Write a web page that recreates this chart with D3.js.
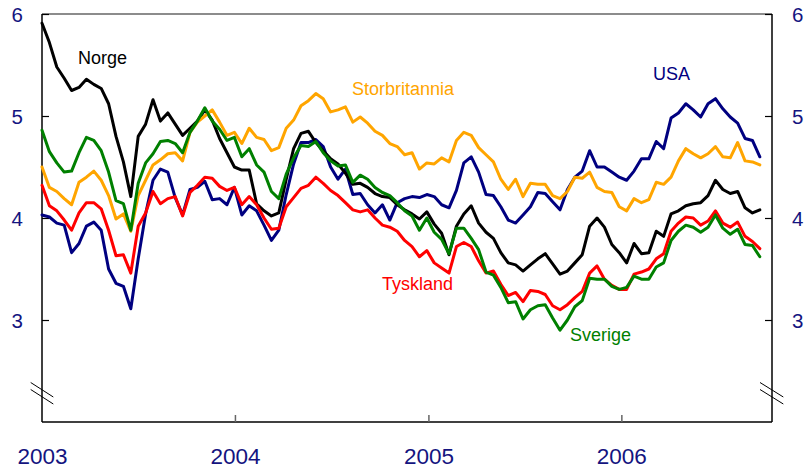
<!DOCTYPE html>
<meta charset="utf-8">
<title>Renter</title>
<style>
  body { margin: 0; background: #fff; }
  svg { display: block; font-family: "Liberation Sans", Arial, sans-serif; }
  .line { fill: none; stroke-width: 3; stroke-linejoin: round; stroke-linecap: round; }
  .axis text { fill: #141480; }
  .axis path.domain { display: none; }
</style>
<body>
<script src="https://d3js.org/d3.v7.min.js"></script>
<script>
// two-week readings, first one in the first week of 2003
var start = new Date(2003, 0, 1);

var norge = [5.91,5.72,5.48,5.37,5.25,5.28,5.36,5.31,5.27,5.12,4.80,4.55,4.21,4.80,4.92,5.16,4.95,5.03,4.92,4.81,
  4.88,4.95,5.06,4.96,4.78,4.64,4.50,4.47,4.47,4.14,4.07,4.02,4.05,4.38,4.68,4.83,4.85,4.74,4.66,4.58,
  4.53,4.44,4.33,4.34,4.30,4.24,4.21,4.20,4.13,4.08,4.04,3.99,4.06,3.94,3.85,3.64,3.92,4.04,4.12,3.95,
  3.86,3.80,3.66,3.56,3.54,3.48,3.54,3.60,3.65,3.55,3.45,3.48,3.56,3.64,3.92,4.00,3.91,3.74,3.66,3.56,
  3.75,3.65,3.66,3.87,3.82,4.04,4.07,4.12,4.14,4.15,4.22,4.37,4.28,4.24,4.26,4.10,4.05,4.08];

var usa = [4.03,4.01,3.95,3.93,3.66,3.75,3.92,3.96,3.88,3.50,3.36,3.33,3.11,3.60,4.04,4.37,4.48,4.45,4.20,4.03,
  4.28,4.30,4.36,4.18,4.19,4.13,4.30,4.03,4.12,4.07,3.93,3.78,3.88,4.23,4.53,4.74,4.74,4.77,4.70,4.50,
  4.38,4.48,4.23,4.24,4.13,4.05,4.13,3.98,4.15,4.19,4.21,4.20,4.23,4.21,4.13,4.10,4.27,4.54,4.60,4.45,
  4.23,4.22,4.11,3.98,3.95,4.03,4.11,4.25,4.24,4.16,4.08,4.28,4.40,4.46,4.66,4.50,4.50,4.45,4.40,4.37,
  4.46,4.58,4.58,4.75,4.68,4.98,5.03,5.12,5.06,4.99,5.12,5.17,5.07,4.99,4.93,4.78,4.76,4.60];

var storbritannia = [4.50,4.30,4.26,4.19,4.13,4.35,4.40,4.46,4.37,4.22,3.99,4.04,3.87,4.22,4.37,4.52,4.57,4.63,4.64,4.56,
  4.84,4.94,5.00,5.06,4.94,4.81,4.84,4.73,4.88,4.79,4.77,4.66,4.69,4.88,4.96,5.10,5.15,5.22,5.17,5.04,
  5.06,5.09,4.94,4.99,4.93,4.85,4.81,4.73,4.70,4.62,4.64,4.48,4.54,4.53,4.59,4.55,4.76,4.84,4.81,4.69,
  4.62,4.55,4.38,4.28,4.38,4.21,4.34,4.33,4.33,4.22,4.19,4.26,4.40,4.39,4.45,4.30,4.26,4.25,4.11,4.07,
  4.19,4.15,4.18,4.35,4.33,4.40,4.56,4.68,4.63,4.59,4.63,4.70,4.60,4.59,4.74,4.56,4.55,4.52];

var tyskland = [4.32,4.12,4.07,3.98,3.88,4.05,4.15,4.15,4.09,3.88,3.63,3.64,3.46,3.92,4.05,4.26,4.14,4.19,4.21,4.02,
  4.25,4.32,4.40,4.39,4.31,4.27,4.30,4.13,4.21,4.13,4.00,3.89,3.90,4.11,4.20,4.29,4.32,4.40,4.34,4.27,
  4.22,4.15,4.08,4.06,4.08,4.00,3.93,3.91,3.87,3.78,3.72,3.62,3.68,3.56,3.51,3.46,3.72,3.76,3.72,3.58,
  3.46,3.48,3.35,3.24,3.27,3.18,3.29,3.28,3.25,3.14,3.10,3.15,3.22,3.28,3.46,3.53,3.40,3.34,3.30,3.30,
  3.45,3.47,3.50,3.60,3.65,3.87,3.95,4.01,4.00,3.93,3.97,4.07,3.95,3.91,3.96,3.82,3.77,3.70];

var sverige = [4.86,4.65,4.54,4.45,4.46,4.64,4.79,4.76,4.66,4.45,4.17,4.14,3.88,4.34,4.54,4.63,4.75,4.76,4.73,4.64,
  4.84,4.95,5.08,4.95,4.87,4.76,4.79,4.60,4.68,4.52,4.45,4.26,4.19,4.43,4.59,4.71,4.70,4.75,4.64,4.56,
  4.51,4.52,4.35,4.42,4.38,4.30,4.25,4.22,4.15,4.07,4.02,3.88,4.00,3.86,3.79,3.65,3.90,3.90,3.80,3.69,
  3.47,3.44,3.32,3.17,3.18,3.01,3.10,3.14,3.15,3.02,2.90,3.00,3.13,3.19,3.41,3.40,3.40,3.33,3.30,3.32,
  3.43,3.40,3.40,3.52,3.56,3.78,3.87,3.93,3.91,3.86,3.91,4.03,3.90,3.84,3.89,3.74,3.73,3.62];

var yTicks = [3, 4, 5, 6];
var xYears = [2003, 2004, 2005, 2006];

var series = [
  { name: "USA", values: usa, color: "#000080", lx: 653, ly: 80 },
  { name: "Norge", values: norge, color: "#000000", lx: 78, ly: 64 },
  { name: "Storbritannia", values: storbritannia, color: "#FFA500", lx: 352, ly: 95 },
  { name: "Tyskland", values: tyskland, color: "#FF0000", lx: 382, ly: 290 },
  { name: "Sverige", values: sverige, color: "#008000", lx: 570, ly: 341 }
];

var W = 808, H = 472;
var plotLeft = 42, plotRight = 772, plotTop = 14, plotBottom = 422;

var dates = norge.map(function(d, i) { return d3.timeDay.offset(start, 14 * i); });

var x = d3.scaleTime()
    .domain([new Date(2003, 0, 1), new Date(2006, 9, 13)])
    .range([plotLeft, plotRight]);

var y = d3.scaleLinear()
    .domain([2, 6])
    .range([plotBottom, plotTop]);

var svg = d3.select("body").append("svg")
    .attr("width", W)
    .attr("height", H);

// frame
svg.append("line").attr("x1", plotLeft).attr("x2", plotRight).attr("y1", plotTop).attr("y2", plotTop)
    .attr("stroke", "#666").attr("stroke-width", 1.5);
svg.append("line").attr("x1", plotLeft).attr("x2", plotLeft).attr("y1", plotTop).attr("y2", plotBottom)
    .attr("stroke", "#000").attr("stroke-width", 1.5);
svg.append("line").attr("x1", plotRight).attr("x2", plotRight).attr("y1", plotTop).attr("y2", plotBottom)
    .attr("stroke", "#000").attr("stroke-width", 1.5);
svg.append("line").attr("x1", plotLeft).attr("x2", plotRight).attr("y1", plotBottom).attr("y2", plotBottom)
    .attr("stroke", "#000").attr("stroke-width", 1.5);

var yLeft = d3.axisLeft(y).tickValues(yTicks).tickFormat(d3.format("d"))
    .tickSize(-7).tickSizeOuter(0).tickPadding(19);
var yRight = d3.axisRight(y).tickValues(yTicks).tickFormat(d3.format("d"))
    .tickSize(-7).tickSizeOuter(0).tickPadding(20);

svg.append("g").attr("class", "axis")
    .attr("transform", "translate(" + plotLeft + ",0)")
    .call(yLeft)
    .call(function(g) {
      g.selectAll(".tick line").attr("stroke", "#000").attr("stroke-width", 1.2);
      g.selectAll("text").style("font-size", "20.5px").attr("dy", "0.36em");
    });

svg.append("g").attr("class", "axis")
    .attr("transform", "translate(" + plotRight + ",0)")
    .call(yRight)
    .call(function(g) {
      g.selectAll(".tick line").attr("stroke", "#000").attr("stroke-width", 1.2);
      g.selectAll("text").style("font-size", "20.5px").attr("dy", "0.36em");
    });

var xAxis = d3.axisBottom(x)
    .tickValues(xYears.map(function(yr) { return new Date(yr, 0, 1); }))
    .tickFormat(d3.timeFormat("%Y"))
    .tickSize(-7).tickSizeOuter(0).tickPadding(26);

svg.append("g").attr("class", "axis")
    .attr("transform", "translate(0," + plotBottom + ")")
    .call(xAxis)
    .call(function(g) {
      g.selectAll(".tick line").attr("stroke", "#666").attr("stroke-width", 1.5)
        .filter(function(d) { return d.getFullYear() === 2003; }).remove();
      g.selectAll("text").style("font-size", "22.5px");
    });

// axis break marks
[[30.7, 53.3], [760, 783.3]].forEach(function(p) {
  [382.5, 389.5].forEach(function(y0) {
    svg.append("line")
      .attr("x1", p[0]).attr("y1", y0)
      .attr("x2", p[1]).attr("y2", y0 + 14.5)
      .attr("stroke", "#000").attr("stroke-width", 1);
  });
});

var line = d3.line()
    .x(function(d, i) { return x(dates[i]); })
    .y(function(d) { return y(d); });

svg.selectAll("path.line")
    .data(series)
  .enter().append("path")
    .attr("class", "line")
    .attr("stroke", function(d) { return d.color; })
    .attr("d", function(d) { return line(d.values); });

svg.selectAll("text.label")
    .data(series)
  .enter().append("text")
    .attr("class", "label")
    .attr("x", function(d) { return d.lx; })
    .attr("y", function(d) { return d.ly; })
    .attr("fill", function(d) { return d.color; })
    .style("font-size", "18px")
    .text(function(d) { return d.name; });
</script>
</body>
</html>
